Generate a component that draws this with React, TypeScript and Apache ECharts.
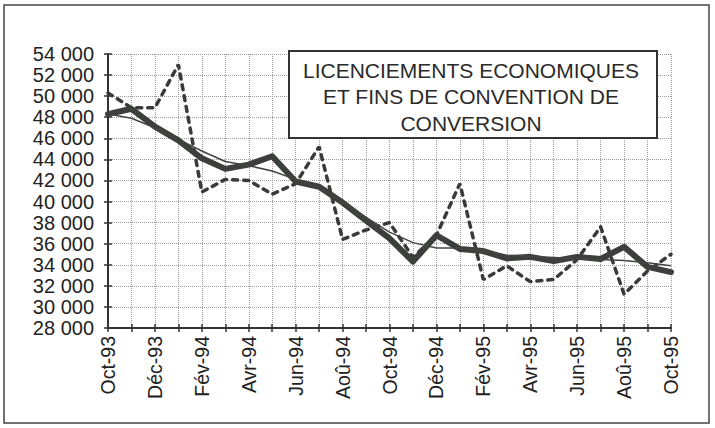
import React, { useEffect, useRef } from "react";
import * as echarts from "echarts";

const categories = [
  "Oct-93", "Nov-93", "Déc-93", "Jan-94", "Fév-94", "Mar-94", "Avr-94", "Mai-94",
  "Jun-94", "Jul-94", "Aoû-94", "Sep-94", "Oct-94", "Nov-94", "Déc-94", "Jan-95",
  "Fév-95", "Mar-95", "Avr-95", "Mai-95", "Jun-95", "Jul-95", "Aoû-95", "Sep-95", "Oct-95",
];

const brutes = [
  50300, 48900, 48900, 53000, 40900, 42100, 42000, 40700, 41700, 45200, 36400, 37300,
  38000, 34700, 36800, 41700, 32600, 33900, 32400, 32600, 34500, 37600, 31200, 33400, 35000,
];

const cvs = [
  48300, 48800, 47100, 45800, 44100, 43100, 43500, 44300, 41900, 41400, 39900, 38200,
  36500, 34300, 36800, 35500, 35300, 34600, 34750, 34350, 34750, 34550, 35700, 33800, 33300,
];

const tendance = [
  48300, 47900, 47000, 45900, 44800, 43800, 43400, 42900, 42100, 41300, 40000, 38500,
  37100, 36100, 35600, 35600, 35350, 34900, 34800, 34700, 34600, 34500, 34400, 34200, 33900,
];

const titleLines = ["LICENCIEMENTS ECONOMIQUES", "ET FINS DE CONVENTION DE", "CONVERSION"];

const yMin = 28000;
const yMax = 54000;
const yStep = 2000;

const FONT = "'Liberation Sans', Arial, Helvetica, sans-serif";

function fmt(v: number): string {
  return String(v).replace(/\B(?=(\d{3})+(?!\d))/g, " ");
}

export default function App() {
  const ref = useRef<HTMLDivElement>(null);

  useEffect(() => {
    if (!ref.current) return;
    const chart = echarts.init(ref.current, undefined, { renderer: "svg" });
    const axisColor = "#333";
    const option: any = {
      animation: false,
      backgroundColor: "#fff",
      grid: { left: 108, right: 44, top: 54, bottom: 100 },
      xAxis: [
        {
          type: "category",
          data: categories,
          boundaryGap: false,
          position: "bottom",
          axisLine: { show: true, lineStyle: { color: axisColor, width: 2 } },
          axisTick: { show: true, interval: 0, length: 4, lineStyle: { color: axisColor, width: 1.5 } },
          axisLabel: {
            interval: 1,
            rotate: 90,
            margin: 8,
            fontSize: 19.5,
            color: "#222",
            fontFamily: FONT,
          },
          splitLine: { show: true, interval: 0, lineStyle: { type: "dotted", color: "#9a9a9a", width: 1 } },
        },
        {
          type: "category",
          data: categories,
          boundaryGap: false,
          position: "bottom",
          axisLine: { show: false },
          axisTick: { show: true, inside: true, interval: 0, length: 4, lineStyle: { color: axisColor, width: 1.5 } },
          axisLabel: { show: false },
          splitLine: { show: false },
        },
      ],
      yAxis: [
        {
          type: "value",
          min: yMin,
          max: yMax,
          interval: yStep,
          position: "left",
          axisLine: { show: true, lineStyle: { color: axisColor, width: 2 } },
          axisTick: { show: true, length: 4, lineStyle: { color: axisColor, width: 1.5 } },
          axisLabel: {
            margin: 14,
            fontSize: 20,
            color: "#222",
            fontFamily: FONT,
            formatter: (v: number) => fmt(v),
          },
          splitLine: { show: true, lineStyle: { type: "dotted", color: "#9a9a9a", width: 1 } },
        },
        {
          type: "value",
          min: yMin,
          max: yMax,
          interval: yStep,
          position: "left",
          axisLine: { show: false },
          axisTick: { show: true, inside: true, length: 4, lineStyle: { color: axisColor, width: 1.5 } },
          axisLabel: { show: false },
          splitLine: { show: false },
        },
      ],
      series: [
        {
          type: "line",
          data: brutes,
          symbol: "none",
          z: 2,
          lineStyle: { color: "#3a3a3a", width: 3.5, type: [5, 6], cap: "round" },
        },
        {
          type: "line",
          data: cvs,
          symbol: "none",
          z: 3,
          lineStyle: { color: "#3c403b", width: 6, join: "round", cap: "round" },
        },
        {
          type: "line",
          data: tendance,
          symbol: "none",
          z: 4,
          lineStyle: { color: "#444", width: 1.5 },
        },
      ],
      graphic: [
        {
          type: "rect",
          shape: { x: 4, y: 5, width: 705, height: 418 },
          style: { fill: "none", stroke: "#444", lineWidth: 1.5 },
          z: 0,
          silent: true,
        },
        {
          type: "rect",
          shape: { x: 289, y: 51, width: 368, height: 87 },
          style: { fill: "#fff", stroke: "#333", lineWidth: 2 },
          z: 10,
          silent: true,
        },
        ...titleLines.map((t, i) => ({
          type: "text",
          x: 471,
          y: 70 + i * 26.5,
          z: 11,
          silent: true,
          style: {
            text: t,
            fill: "#2a2a2a",
            font: `21px ${FONT}`,
            textAlign: "center",
            textVerticalAlign: "middle",
          },
        })),
      ],
    };
    chart.setOption(option);
    return () => chart.dispose();
  }, []);

  return (
    <div
      ref={ref}
      style={{ position: "absolute", left: 0, top: 0, width: 715, height: 428 }}
    />
  );
}
